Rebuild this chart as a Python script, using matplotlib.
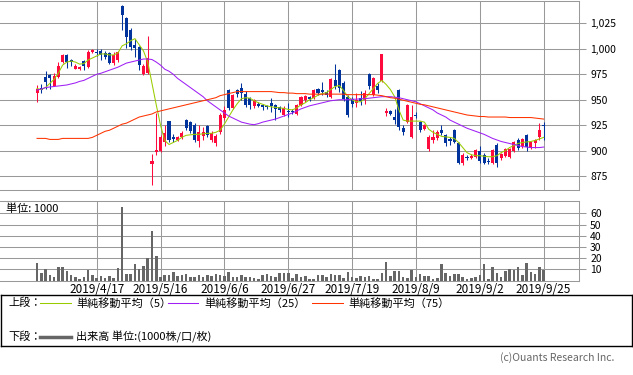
import numpy as np
import matplotlib
matplotlib.use("Agg")
import matplotlib.pyplot as plt

plt.rcParams['font.family'] = ['Noto Sans CJK JP', 'DejaVu Sans']

# 日足 (O, H, L, C)
opens = [957, 962, 972, 974, 963, 972, 987, 994, 989, 980,
         980, 988, 982, 997, 997, 998, 996, 996, 986, 989,
         1042, 1030, 1019, 1004, 1002, 975, 976, 887, 899, 900,
         908, 929, 913, 910, 913, 930, 928, 925, 909, 914,
         924, 910, 907, 918, 932, 960, 942, 960, 962, 956,
         952, 944, 946, 945, 944, 947, 945, 943, 935, 939,
         939, 936, 945, 950, 953, 952, 961, 960, 958, 953,
         969, 979, 966, 953, 951, 947, 952, 950, 975, 955,
         963, 968, 937, 939, 933, 960, 922, 928, 913, 935,
         928, 921, 902, 910, 912, 920, 915, 911, 920, 907,
         888, 894, 893, 894, 900, 896, 890, 888, 906, 893,
         895, 894, 900, 910, 905, 915, 903, 907, 913, 925]
highs = [964, 965, 978, 975, 976, 987, 995, 995, 990, 985,
         983, 989, 999, 1000, 1000, 1000, 998, 997, 997, 998,
         1043, 1031, 1020, 1010, 1003, 985, 1013, 897, 937, 915,
         925, 929, 916, 914, 919, 931, 929, 927, 925, 923,
         925, 919, 916, 937, 944, 961, 956, 961, 966, 959,
         953, 951, 948, 946, 945, 952, 946, 944, 944, 947,
         941, 946, 954, 955, 954, 961, 962, 967, 960, 971,
         985, 980, 968, 955, 953, 957, 959, 960, 976, 972,
         966, 995, 942, 940, 941, 961, 925, 946, 945, 938,
         929, 926, 915, 920, 920, 925, 916, 913, 921, 908,
         898, 896, 897, 902, 905, 898, 893, 902, 907, 898,
         903, 903, 909, 912, 912, 916, 909, 911, 927, 928]
lows = [948, 957, 961, 961, 963, 971, 986, 981, 983, 980,
        979, 979, 981, 996, 993, 989, 990, 985, 984, 987,
        1019, 1001, 999, 992, 979, 974, 975, 866, 896, 899,
        905, 908, 908, 909, 911, 920, 917, 908, 904, 910,
        913, 908, 905, 916, 930, 940, 941, 953, 950, 943,
        941, 942, 943, 940, 941, 938, 930, 938, 934, 933,
        936, 935, 944, 948, 949, 951, 955, 955, 953, 952,
        961, 958, 949, 933, 943, 943, 945, 946, 961, 954,
        957, 967, 934, 935, 926, 920, 915, 927, 912, 932,
        918, 920, 900, 907, 910, 915, 905, 906, 907, 887,
        886, 891, 892, 893, 888, 887, 887, 887, 884, 891,
        894, 893, 899, 901, 903, 900, 902, 903, 910, 910]
closes = [961, 960, 967, 971, 973, 983, 994, 987, 987, 983,
          982, 983, 997, 999, 996, 994, 992, 986, 994, 997,
          1033, 1012, 1002, 1001, 984, 983, 991, 890, 901, 913,
          917, 910, 911, 913, 917, 922, 919, 910, 918, 918,
          915, 917, 914, 935, 940, 942, 955, 956, 957, 945,
          945, 950, 944, 943, 943, 944, 941, 940, 942, 938,
          938, 945, 953, 954, 951, 960, 957, 958, 955, 970,
          963, 962, 951, 935, 946, 950, 949, 957, 963, 971,
          960, 995, 939, 936, 930, 923, 918, 945, 933, 934,
          920, 925, 913, 913, 918, 917, 907, 909, 908, 888,
          896, 893, 895, 901, 890, 888, 889, 901, 888, 897,
          902, 902, 908, 903, 911, 904, 908, 910, 920, 924]

# 出来高 (1000株)
volume = [15.8, 6.8, 10.1, 4.8, 3.0, 11.9, 11.9, 8.6, 4.8, 3.0,
          1.5, 3.0, 9.2, 4.8, 2.1, 3.9, 2.1, 3.6, 2.1, 11.0,
          65.8, 5.7, 5.7, 14.6, 10.1, 12.8, 19.9, 44.0, 21.7, 3.0,
          4.8, 4.8, 7.4, 3.6, 4.8, 5.7, 3.0, 3.0, 4.8, 3.0,
          4.8, 3.9, 5.7, 4.8, 3.9, 7.4, 3.0, 3.0, 4.8, 3.0,
          3.0, 2.1, 1.5, 4.8, 5.7, 3.9, 3.0, 6.5, 6.5, 6.8,
          2.4, 5.7, 3.3, 3.9, 1.2, 1.2, 4.8, 4.8, 3.0, 5.7,
          4.8, 4.8, 2.4, 7.7, 3.0, 2.1, 3.9, 3.0, 3.9, 1.2,
          1.2, 6.8, 16.4, 3.9, 8.6, 8.6, 3.0, 2.4, 9.2, 2.7,
          6.0, 3.9, 3.9, 1.2, 1.8, 14.6, 6.8, 3.9, 5.7, 5.7,
          3.0, 1.5, 2.1, 3.0, 4.8, 14.6, 1.2, 11.9, 6.8, 2.7,
          8.6, 10.1, 9.8, 11.9, 4.8, 15.5, 7.7, 5.7, 11.9, 9.2]

# 移動平均 (チャートから読み取り)
ma5 = [961, 960, 962, 966, 970, 976, 984, 987, 988, 987,
       985, 985.5, 989, 991, 993, 995, 995, 994, 994, 996,
       1003, 1005, 1008, 1010, 1004, 998, 987, 966, 945, 925,
       910, 906, 908, 910, 913, 915, 915.5, 916, 916, 916.5,
       917, 917, 918, 920, 926, 933, 940, 946, 951, 952,
       951.5, 949, 947, 945.5, 944, 943, 942.5, 942, 941.5, 940.5,
       940, 942, 945, 947, 950, 952, 954.5, 956, 957, 960,
       963, 964, 959, 953, 950, 948, 948, 951, 956, 961,
       966, 969, 965, 960, 953, 940, 930, 929, 929, 929,
       929, 928, 921, 918, 916, 914, 913.5, 913, 912, 908,
       903, 898, 896, 895, 895, 894.5, 894, 894, 895, 898,
       900, 903, 905, 907, 908, 908.5, 909, 910, 911.5, 913]
ma25 = [959.5, 960.5, 962, 962.5, 963, 963.5, 964, 964.5, 965.5, 966.5,
        968, 969, 971, 973, 975, 976, 977.5, 979, 980.5, 982,
        984, 986, 987, 988, 989, 990, 990, 989.5, 987, 984,
        980, 978, 975, 971, 968, 965, 962, 959, 956, 953,
        949, 946, 943, 940, 937, 934, 932, 930, 928, 927,
        926, 925.5, 926.5, 928, 929, 930, 931, 932.5, 934, 935.5,
        937, 939, 941, 942.5, 944, 945, 946, 947, 948, 949,
        949.5, 950, 950, 950, 950.5, 950.5, 951, 951, 951.5, 952,
        952.5, 953, 953, 953, 952.5, 952, 951, 950, 949, 948,
        946, 944, 942, 940, 937, 935, 933, 930, 928, 926,
        924, 922, 920.5, 919, 917.5, 916, 914, 912, 910.5, 909,
        908, 907, 906, 905, 904, 903.5, 903, 903, 903, 903.5]
ma75 = [912, 912, 912, 911, 911, 911, 912, 912, 912, 912,
        912, 912, 912, 913, 915, 917, 919, 920, 922, 924,
        926, 927, 929, 931, 933, 934, 935, 936, 938, 939,
        940, 941, 942, 943, 944, 945, 946, 947, 948, 949,
        950, 951, 952, 954, 955, 956, 957, 958, 958, 958,
        958, 958, 958, 958, 958, 958, 957.5, 957, 957, 956.5,
        956.5, 956, 956, 956, 955.5, 955.5, 955.5, 955.5, 955.5, 955.5,
        955.5, 955.5, 955.5, 955, 955, 955, 955, 955, 955, 955,
        954.5, 954, 953, 952, 951.5, 950.5, 949.5, 948.5, 947.5, 946.5,
        945.5, 945, 944, 943, 942, 941, 940, 939, 938, 937,
        936, 935, 934.5, 934, 933.5, 933.5, 933, 933, 933, 933,
        933, 932.5, 932.5, 932.5, 932.5, 932.5, 932.5, 932, 931.5, 931]

date_pos = [14, 29, 44, 59, 74, 89, 104, 119]
date_labels = ['2019/4/17', '2019/5/16', '2019/6/6', '2019/6/27',
               '2019/7/19', '2019/8/9', '2019/9/2', '2019/9/25']
price_ticks = [875, 900, 925, 950, 975, 1000, 1025]
price_labels = ['875', '900', '925', '950', '975', '1,000', '1,025']
vol_ticks = [10, 20, 30, 40, 50, 60]

UP = '#ff0a3c'
DOWN = '#00339c'
GRID = '#999999'
LW = 0.75

W, H = 633, 375


def box(x0, y0, x1, y1):
    return [x0 / W, 1 - y1 / H, (x1 - x0) / W, (y1 - y0) / H]


fig = plt.figure(figsize=(W / 100, H / 100), dpi=100)
fig.patch.set_facecolor('white')

# 上段: ローソク足
ax = fig.add_axes(box(0, 0.5, 579, 190))
x = np.arange(len(closes))
o = np.array(opens, float)
c = np.array(closes, float)
up = c >= o
cols = np.where(up, UP, DOWN)
ax.vlines(x, lows, highs, colors=cols, lw=LW, zorder=3)
body = np.maximum(np.abs(c - o), 0.6)
ax.bar(x, body, bottom=np.minimum(o, c), width=0.72, color=cols, lw=0, zorder=4)
ax.plot(x, ma5, color='#99cc00', lw=LW, zorder=5)
ax.plot(x, ma25, color='#9f1ff5', lw=LW, zorder=5)
ax.plot(x, ma75, color='#ff3300', lw=LW, zorder=5)

ax.set_xlim(-8.7, 127.3)
ax.set_ylim(861.3, 1047.5)
ax.set_xticks(date_pos)
ax.set_yticks(price_ticks)
ax.set_yticklabels(price_labels)
ax.yaxis.tick_right()
ax.tick_params(axis='x', length=0, labelbottom=False)
ax.tick_params(axis='y', length=5, width=LW, color=GRID, labelsize=7.5, pad=3)
ax.grid(True, color=GRID, lw=LW, zorder=0)
ax.set_axisbelow(True)
for s in ax.spines.values():
    s.set_color(GRID)
    s.set_linewidth(LW)
ax.spines['left'].set_visible(False)

# 下段: 出来高
vax = fig.add_axes(box(0, 201, 579, 280.5))
vax.bar(x, volume, width=0.6, color='#666666', lw=0, zorder=3)
vax.set_xlim(-8.7, 127.3)
vax.set_ylim(0, 71)
vax.set_xticks(date_pos)
vax.set_xticklabels(date_labels)
vax.set_yticks(vol_ticks)
vax.yaxis.tick_right()
vax.tick_params(axis='x', length=0, labelsize=8.5, pad=2)
vax.tick_params(axis='y', length=5, width=LW, color=GRID, labelsize=7.5, pad=3)
vax.grid(True, color=GRID, lw=LW, zorder=0)
vax.set_axisbelow(True)
for s in vax.spines.values():
    s.set_color(GRID)
    s.set_linewidth(LW)
vax.spines['left'].set_visible(False)
fig.text(6 / W, 1 - 209 / H, '単位: 1000', fontsize=8, va='center')

# 凡例
lax = fig.add_axes(box(0.5, 295, 632, 346))
lax.set_xlim(0.5, 632)
lax.set_ylim(346, 295)
lax.set_xticks([])
lax.set_yticks([])
for s in lax.spines.values():
    s.set_color('black')
    s.set_linewidth(1)
lax.text(8, 303, '上段：', fontsize=8, va='center')
lax.plot([40, 71], [303, 303], color='#99cc00', lw=LW)
lax.text(76, 303, '単純移動平均（5）', fontsize=8, va='center')
lax.plot([168, 198], [303, 303], color='#9f1ff5', lw=LW)
lax.text(204, 303, '単純移動平均（25）', fontsize=8, va='center')
lax.plot([312, 343], [303, 303], color='#ff3300', lw=LW)
lax.text(348, 303, '単純移動平均（75）', fontsize=8, va='center')
lax.text(8, 337, '下段：', fontsize=8, va='center')
lax.plot([40, 71], [337, 337], color='#666666', lw=2.5)
lax.text(76, 337, '出来高 単位:(1000株/口/枚)', fontsize=8, va='center')

fig.text(614 / W, 1 - 358 / H, '(c)Ouants Research Inc.', fontsize=7.5,
         color='#666666', ha='right', va='center')

fig.savefig('out.png', dpi=100)
